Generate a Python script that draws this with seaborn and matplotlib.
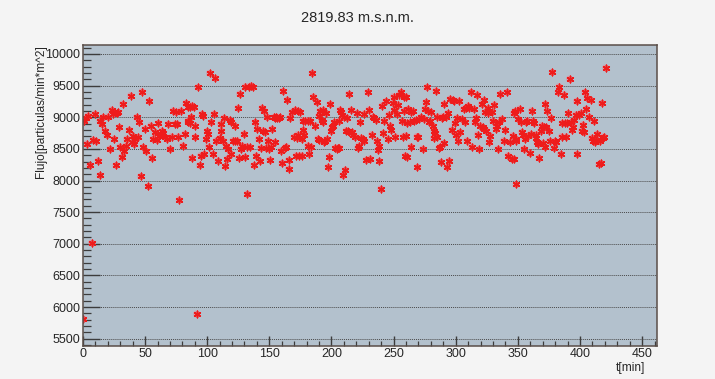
import numpy as np
import pandas as pd
import matplotlib
matplotlib.use("Agg")
import matplotlib.pyplot as plt
import seaborn as sns
from matplotlib.ticker import MultipleLocator

# Flujo de particulas vs tiempo
t_min = [
    0.3, 7.0, 91.5,
    0.8, 2.4, 4.3, 2.9, 5.6, 9.7, 8.3, 10.5, 12.3, 13.7, 13.7, 15.0, 16.4, 17.7, 19.1, 20.4,
    21.7, 23.1, 23.9, 25.0, 26.6, 27.1, 28.4, 29.3, 29.8, 31.1, 31.9, 33.0, 34.6, 35.2, 37.3,
    38.4, 39.2, 40.0, 41.1, 41.9, 43.2, 44.6, 45.4, 46.4, 47.5, 48.6, 49.9, 50.7, 52.6, 53.4,
    54.5, 55.3, 56.6, 58.0, 59.3, 60.7, 61.5, 62.5, 63.3, 64.7, 66.0, 67.4, 68.7, 70.0, 71.4,
    72.7, 74.1, 74.9, 75.9, 76.8, 77.6, 78.7, 80.3, 82.1, 82.9, 84.8, 84.8,
    85.8, 87.7, 89.3, 84.5, 85.8, 87.2, 89.9, 90.4, 87.7, 92.6, 93.9, 94.7, 95.8, 96.6, 97.4,
    99.3, 100.1, 100.6, 101.1, 101.9, 103.3, 104.6, 105.4, 106.5, 107.3, 108.7, 110.0, 110.8,
    111.3, 112.7, 113.5, 114.6, 115.4, 116.2, 116.7, 118.1, 118.9, 119.4, 120.7, 122.1, 122.6,
    124.2, 124.8, 125.3, 126.1, 126.9, 128.0, 129.6, 130.1, 130.7, 131.7, 132.3, 133.3, 134.2,
    135.5, 136.8, 137.6, 138.7, 139.5, 140.3, 141.4, 142.2, 143.0, 144.1, 144.9, 145.7, 146.8,
    147.6, 148.4, 148.9, 149.5, 150.3, 151.1, 152.1, 153.7, 154.3, 154.8, 155.6, 156.4, 157.5,
    158.3, 159.1, 160.2, 161.0, 162.3, 163.7, 164.5, 165.6, 165.6, 166.4, 168.2, 169.8, 170.9,
    171.7, 172.5,
    184.4, 172.8, 174.7, 176.9, 179.0, 180.9, 182.8, 177.4, 176.3, 178.2, 172.8, 174.2, 176.3,
    180.9, 182.2, 183.6, 185.5, 187.1, 188.1, 189.8, 190.3, 189.0, 190.8, 192.4, 193.0, 193.5,
    194.3, 195.1, 195.7, 196.2, 197.3, 198.3, 198.9, 199.7, 200.5, 201.6, 202.4, 203.2, 204.2,
    205.0, 205.9, 206.4, 206.9, 207.7, 208.5, 209.1, 210.4, 211.2, 211.8, 212.3, 213.1, 213.9,
    214.4, 215.8, 216.6, 217.7, 219.3, 220.3, 221.2, 222.0, 223.0, 223.8, 225.2, 226.0, 226.5,
    227.9, 229.2, 230.0, 231.1, 232.2, 233.2, 234.6, 235.9, 236.5, 237.3, 238.1, 238.6, 239.7,
    240.7, 241.8, 242.6, 244.0, 245.3, 246.1, 247.2, 248.0, 249.3, 249.9, 250.7, 251.5, 252.6,
    253.4, 254.7, 256.0, 256.8, 257.9, 258.7, 259.5,
    259.8, 258.5, 261.7, 263.9, 265.2, 263.3, 260.6, 259.8, 260.6, 263.9, 266.6, 267.9, 268.7,
    269.8, 269.2, 270.6, 271.9, 273.3, 274.6, 275.1, 276.0, 276.8, 277.8, 278.6, 279.4, 280.0,
    281.3, 282.1, 282.7, 283.2, 284.0, 284.8, 285.3, 286.7, 287.5, 288.0, 288.6, 289.4, 290.2,
    290.7, 292.1, 292.9, 293.4, 294.7, 295.5, 296.6, 297.4, 298.8, 299.3, 300.1, 300.9, 302.0,
    302.8, 303.6, 304.7, 306.3, 307.3, 308.2, 309.0, 310.0, 310.8, 312.2, 312.7, 314.3, 315.4,
    316.2, 317.0, 317.5, 318.9, 319.7, 320.8, 321.6, 322.4, 322.9, 323.5, 324.3, 325.6, 326.1,
    326.9, 327.7, 328.8, 329.6, 331.0, 332.3, 333.1, 334.2, 335.0, 335.8, 336.9, 338.5, 339.6,
    341.2, 342.2, 343.8, 344.9, 346.5, 346.0,
    348.6, 346.7, 347.5, 348.1, 348.6, 350.2, 351.3, 352.1, 352.9, 354.0, 354.8, 355.6, 356.7,
    357.5, 358.3, 359.4, 360.2, 361.0, 362.0, 362.9, 364.2, 364.7, 365.5, 366.3, 366.9, 368.2,
    369.0, 370.1, 370.9, 371.7, 372.2, 372.8, 373.6, 374.9, 375.5, 376.3, 377.6, 379.0, 379.8,
    380.8, 382.4, 383.0, 384.3, 385.1, 385.7, 387.0, 387.8, 388.9, 389.7, 390.5, 391.6, 392.4,
    393.7, 394.2, 395.1, 396.4, 397.2, 397.7, 399.1, 400.4, 401.2, 402.3, 403.1, 403.9, 405.0,
    405.8, 407.1, 408.5, 409.3, 410.4, 411.2, 412.0, 413.0, 413.8, 415.2, 416.5, 415.7, 417.3,
    418.4, 419.2, 420.6,
]

flujo = [
    5810, 7016, 5890,
    8948, 8990, 9026, 8580, 8238, 9053, 8643, 8622, 8316, 8080, 8948, 8895, 9000, 8790, 8727, 9010,
    8500, 9116, 9053, 8658, 8238, 9063, 9079, 8842, 8537, 8370, 9210, 8474, 8553, 8658, 8800,
    9342, 8606, 8710, 8580, 8660, 9000, 8685, 8921, 8064, 9405, 8527, 8816, 8464, 7906, 9253,
    8869, 8358, 8658, 8764, 8643, 8906, 8710, 8737, 8790, 8748, 8695, 8658, 8895, 8500, 8695,
    9105, 8895, 9079, 8895, 8695, 7696, 9105, 8553, 8737, 9221, 8948, 9158,
    9168, 9184, 9158, 8921, 8906, 9000, 8869, 8685, 8358, 9474, 8238, 8395, 9053, 9026, 8421,
    8658, 8779, 8737, 8537, 9695, 8921, 8421, 9053, 9621, 8632, 8316, 8674, 8895,
    8790, 8632, 8990, 8222, 8553, 8343, 8500, 8958, 8421, 8921, 8632, 8869, 8622,
    8632, 9147, 8358, 9368, 8500, 8553, 8737, 8369, 9484, 8537, 7790, 9484, 8527,
    9500, 9474, 8238, 8921, 8395, 8816, 8658, 8306, 8516, 9147, 8790, 9105, 8764,
    8516, 9000, 8632, 8500, 8327, 8537, 8816, 9000, 8606, 8990, 9010, 8990, 8990,
    9000, 8474, 8274, 9411, 8516, 8537, 9274, 8327, 8185, 8990, 9079, 8685, 9116,
    8395, 8674,
    9695, 9105, 9079, 8948, 8948, 8948, 8948, 8800, 8658, 8727, 8727, 8395, 8395,
    8553, 8421, 8537, 9326, 8869, 9237, 9026, 8643, 8658, 9105, 8958, 8921, 9116,
    8606, 8632, 9063, 8658, 8211, 8379, 9210, 8790, 8842, 8869, 8921, 8516, 8500,
    8516, 8937, 8516, 9116, 9079, 9042, 8080, 9000, 8169, 8790, 8990, 8779, 9368,
    8764, 9116, 8764, 8727, 8685, 9063, 8516, 8553, 8921, 8674, 8658, 9053, 8632,
    8327, 9395, 9116, 8343, 8727, 9010, 8990, 8958, 8622, 8485, 8553, 8306, 7869,
    9184, 8748, 8948, 9253, 8658, 9042, 8869, 8800, 9221, 9326, 9116, 8695, 9053,
    9200, 9358, 9395, 8937, 8695, 9326, 8395,
    9326, 9105, 9132, 9079, 9095, 8921, 8906, 8711, 8379, 8537, 8948, 8958, 8695,
    8695, 8211, 8974, 9000, 8500, 8974, 9132, 9237, 9474, 9105, 8921, 8937, 9079,
    8869, 8674, 8790, 8748, 9421, 8695, 9010, 8516, 8537, 8290, 8990, 9010, 8590,
    9210, 9010, 8211, 9063, 8316, 9290, 8800, 9274, 9263, 8906, 8727, 8990, 8622,
    9263, 8764, 8974, 9132, 8921, 9147, 8632, 9184, 9147, 9395, 8537, 9132, 8921,
    8990, 9358, 8727, 8500, 8869, 9210, 8842, 9274, 8816, 9079, 8790, 9147, 9063,
    8606, 8711, 9079, 8948, 9200, 8816, 8869, 8500, 8921, 9368, 8974, 8632, 8800,
    9395, 8395, 8606, 8343, 9063, 8711,
    7938, 8343, 9095, 8632, 8658, 8974, 9132, 8921, 8764, 8727, 8500, 8658, 8921,
    8948, 8711, 8432, 8737, 9105, 8937, 8906, 8727, 8674, 8606, 8580, 8358, 8779,
    8869, 8590, 8853, 8537, 9210, 8842, 9105, 8790, 8622, 8990, 9711, 8516, 8622,
    8606, 9395, 9484, 8421, 8695, 8906, 9358, 8906, 8695, 8906, 9063, 9605, 8921,
    8800, 8853, 8958, 9042, 9253, 8421, 9042, 9063, 8790, 8884, 8764, 9395, 9132,
    9305, 9010, 9274, 8674, 8632, 8937, 8606, 8643, 8737, 8253, 8274, 8622, 9221,
    8674, 8695, 9779,
]

y_ticks = list(range(5500, 10001, 500))
x_ticks = list(range(0, 451, 50))

df = pd.DataFrame({"t": t_min, "flujo": flujo})

sns.set_style("ticks")
plt.rcParams["font.family"] = ["Liberation Sans", "DejaVu Sans"]

fig = plt.figure(figsize=(7.15, 3.79), dpi=100, facecolor="#f4f4f4")
ax = fig.add_axes([0.116, 0.088, 0.803, 0.793])
ax.set_facecolor("#b3c1cd")

# halo + asterisk, like the ROOT marker
sns.scatterplot(data=df, x="t", y="flujo", ax=ax, marker="o", s=26,
                color="#f07a88", edgecolor="none", alpha=0.5, legend=False)
sns.scatterplot(data=df, x="t", y="flujo", ax=ax, marker=(6, 2, 0), s=22,
                color="#ee1c1c", linewidth=1.1, legend=False)

ax.set_xlim(0, 462)
ax.set_ylim(5390, 10140)
ax.set_xticks(x_ticks)
ax.set_yticks(y_ticks)
ax.xaxis.set_minor_locator(MultipleLocator(10))
ax.yaxis.set_minor_locator(MultipleLocator(100))
ax.grid(axis="y", which="major", linestyle=(0, (1, 1)), color="#4a4a4a", linewidth=0.7)
ax.set_axisbelow(True)

ax.tick_params(axis="y", which="major", direction="in", length=12, width=1.0,
               color="#3c3c3c", labelsize=9, pad=2)
ax.tick_params(axis="y", which="minor", direction="in", length=6, width=0.9, color="#3c3c3c")
ax.tick_params(axis="x", which="major", direction="in", length=7, width=1.0,
               color="#3c3c3c", labelsize=9, pad=2)
ax.tick_params(axis="x", which="minor", direction="in", length=3.5, width=0.9, color="#3c3c3c")

for sp in ax.spines.values():
    sp.set_color("#5a4e48")
    sp.set_linewidth(1.1)

ax.set_xlabel("")
ax.set_ylabel("")
fig.text(0.057, 0.881, "Flujo[particulas/min*m^2]", rotation=90, ha="center", va="top",
         fontsize=8.6)
fig.text(0.903, 0.012, "t[min]", ha="right", va="bottom", fontsize=8.6)
fig.text(0.5, 0.952, "2819.83 m.s.n.m.", ha="center", va="center", fontsize=10.5)

fig.savefig("out.png", dpi=100, facecolor=fig.get_facecolor())
